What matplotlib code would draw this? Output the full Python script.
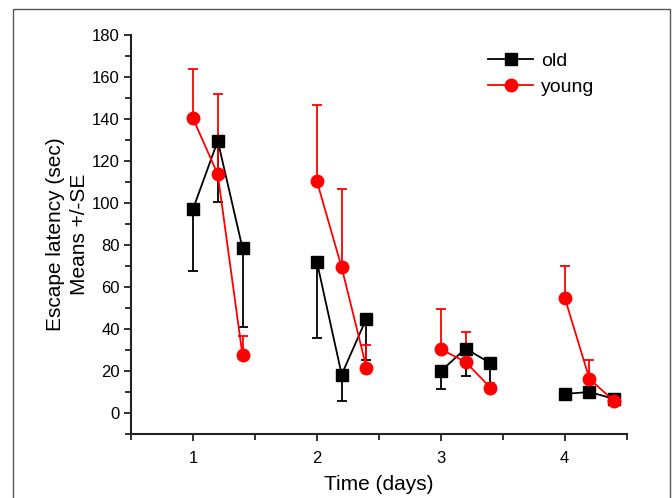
import numpy as np
import matplotlib
matplotlib.use("Agg")
import matplotlib.pyplot as plt
from matplotlib.patches import Rectangle
from matplotlib.lines import Line2D
from matplotlib.ticker import MultipleLocator

plt.rcParams['font.family'] = ['Liberation Sans', 'DejaVu Sans']

# Three trials per day, offset within each day
days = [1, 2, 3, 4]
trial_offsets = [0.0, 0.2, 0.4]

old_mean = [[97.1, 129.6, 78.4],
            [72.0, 18.3, 45.0],
            [19.9, 30.7, 23.7],
            [9.1, 10.0, 6.7]]
old_se = [[29.6, 29.3, 37.4],
          [36.5, 12.7, 19.9],
          [8.6, 13.2, 12.9],
          [1.5, 1.5, 1.0]]

young_mean = [[140.3, 113.6, 27.4],
              [110.4, 69.3, 21.6],
              [30.4, 24.3, 12.1],
              [55.0, 16.2, 5.7]]
young_se = [[23.4, 38.4, 9.2],
            [36.3, 37.2, 10.6],
            [19.2, 14.3, 2.0],
            [15.0, 8.9, 1.0]]

fig = plt.figure(figsize=(6.72, 4.98), dpi=100)
ax = fig.add_axes([0.195, 0.1285, 0.7375, 0.8012])

# Page frame
fig.patches.append(Rectangle((13 / 672, -0.05), (670 - 13) / 672, 1.05 - 9 / 498,
                             transform=fig.transFigure, fill=False,
                             edgecolor='#555555', linewidth=1.0))


def draw_series(means, ses, color, marker, ms, downward):
    for i, d in enumerate(days):
        x = [d + o for o in trial_offsets]
        y = means[i]
        e = np.array(ses[i])
        z = np.zeros_like(e)
        yerr = [e, z] if downward else [z, e]
        ax.errorbar(x, y, yerr=yerr, color=color, ecolor=color, elinewidth=1.3,
                    capsize=3.5, capthick=1.3, linewidth=1.3, marker=marker,
                    markersize=ms, markeredgecolor=color, markerfacecolor=color)


draw_series(old_mean, old_se, 'black', 's', 8, True)
draw_series(young_mean, young_se, 'red', 'o', 9, False)

ax.set_xlim(0.5, 4.5)
ax.set_ylim(-10, 180)
ax.xaxis.set_major_locator(MultipleLocator(1))
ax.xaxis.set_minor_locator(MultipleLocator(0.5))
ax.yaxis.set_minor_locator(MultipleLocator(10))
ax.set_yticks(np.arange(0, 181, 20))

for s in ['top', 'right']:
    ax.spines[s].set_visible(False)
for s in ['left', 'bottom']:
    ax.spines[s].set_linewidth(1.5)
    ax.spines[s].set_color('#222222')

ax.tick_params(which='major', direction='out', length=5, width=1.3,
               labelsize=12, pad=3, color='#222222')
ax.tick_params(axis='x', which='major', pad=7)
ax.tick_params(which='minor', direction='out', length=4, width=1.3, color='#222222')

ax.set_xlabel('Time (days)', fontsize=15, labelpad=7)
ax.set_ylabel('Escape latency (sec)\nMeans +/-SE', fontsize=15, labelpad=2,
              linespacing=1.35)

handles = [Line2D([], [], color='black', marker='s', markersize=8, linewidth=1.3),
           Line2D([], [], color='red', marker='o', markersize=9, linewidth=1.3)]
ax.legend(handles, ['old', 'young'], loc='upper right', bbox_to_anchor=(0.97, 1.0),
          frameon=False, fontsize=14, handlelength=2.3, handletextpad=0.4,
          labelspacing=0.4)

fig.savefig('out.png', dpi=100)
